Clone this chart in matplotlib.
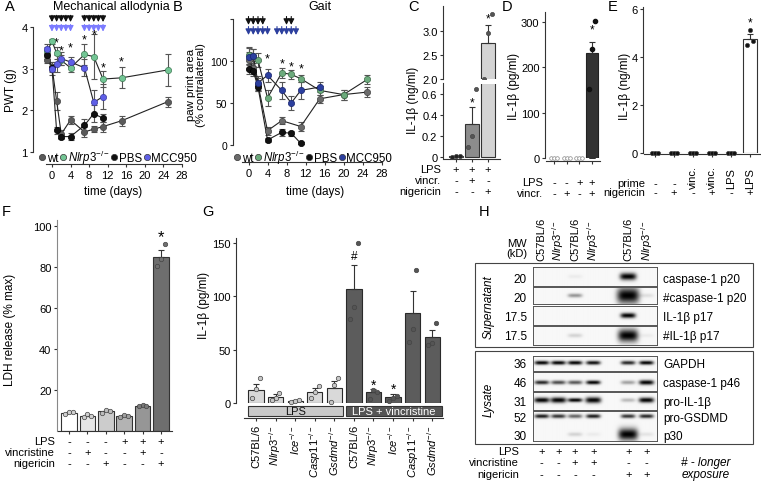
import numpy as np
import matplotlib
matplotlib.use("Agg")
import matplotlib.pyplot as plt
import matplotlib.transforms as mtransforms
from matplotlib.lines import Line2D
from matplotlib.patches import Rectangle

plt.rcParams['font.family'] = ['Liberation Sans', 'DejaVu Sans']
plt.rcParams['mathtext.fontset'] = 'custom'
plt.rcParams['mathtext.rm'] = 'Liberation Sans'
plt.rcParams['mathtext.it'] = 'Liberation Sans:italic'
plt.rcParams['mathtext.bf'] = 'Liberation Sans:bold'
plt.rcParams['axes.linewidth'] = 0.8

NLRP3 = r'$\it{Nlrp3}^{-/-}$'

# ---- A: mechanical allodynia ----
a_days = [-1, 0, 1, 2, 4, 7, 9, 11, 15, 25]
a_days_short = [-1, 0, 1, 2, 4, 7, 9, 11]
a_wt = [3.21, 3.05, 2.23, 1.43, 1.77, 1.48, 1.55, 1.61, 1.75, 2.21]
a_wt_sem = [0.08, 0.1, 0.22, 0.1, 0.1, 0.12, 0.08, 0.12, 0.12, 0.12]
a_nlrp3 = [3.42, 3.66, 3.37, 3.2, 3.02, 3.34, 3.29, 2.75, 2.78, 2.97]
a_nlrp3_sem = [0.1, 0.06, 0.15, 0.12, 0.1, 0.25, 0.55, 0.2, 0.25, 0.38]
a_pbs = [3.32, 3.02, 1.52, 1.37, 1.37, 1.64, 1.92, 1.81]
a_pbs_sem = [0.1, 0.1, 0.08, 0.07, 0.08, 0.15, 0.2, 0.1]
a_mcc = [3.48, 3.0, 3.12, 3.24, 3.16, 3.02, 2.19, 2.33]
a_mcc_sem = [0.1, 0.15, 0.2, 0.15, 0.12, 0.2, 0.3, 0.3]
a_arrows_black = [0, 1, 2, 3, 4, 7, 8, 9, 10, 11]
a_arrows_blue = [0, 1, 2, 3, 4, 7, 8, 9, 10, 11]
a_star_days = [1, 2, 4, 7, 9, 11, 15]
a_star_y = [3.64, 3.44, 3.52, 3.70, 3.81, 3.03, 3.17]

# ---- B: gait ----
b_wt_days = [0, 1, 2, 4, 7, 11, 15, 20, 25]
b_wt = [101, 92, 72, 17, 29, 22, 55, 60, 63]
b_wt_sem = [10, 8, 8, 5, 4, 5, 5, 6, 6]
b_nlrp3_days = [0, 1, 2, 4, 7, 9, 11, 15, 20, 25]
b_nlrp3 = [107, 106, 101, 56, 86, 84, 79, 65, 60, 78]
b_nlrp3_sem = [10, 8, 8, 10, 6, 5, 4, 5, 6, 5]
b_pbs_days = [0, 1, 2, 4, 7, 9, 11]
b_pbs = [90, 88, 69, 6, 15, 14, 2]
b_pbs_sem = [6, 6, 5, 2, 4, 3, 1]
b_mcc_days = [0, 1, 2, 4, 7, 9, 11, 15]
b_mcc = [105, 106, 74, 83, 65, 50, 65, 69]
b_mcc_sem = [10, 8, 8, 8, 10, 8, 10, 6]
b_arrows_black = [0, 1, 2, 3, 8, 9]
b_arrows_blue = [0, 1, 2, 3, 4, 6, 7, 8, 9, 10]
b_star_days = [4, 7, 9, 11]
b_star_y = [103, 97, 93, 91]

# ---- C ----
c_vals = [0.01, 0.31, 2.75]
c_err = [0.004, 0.17, 0.38]
c_pts = [[0.004, 0.01, 0.012], [0.1, 0.2, 0.65], [2.0, 2.95, 3.35]]
c_lps = ['+', '+', '+']
c_vinc = ['-', '+', '-']
c_nig = ['-', '-', '+']

# ---- D ----
d_vals = [0.5, 0.5, 0.5, 232]
d_err = [0, 0, 0, 24]
d_pts = [[0, 0, 0], [0, 0, 0], [0, 0, 0], [152, 240, 302]]
d_lps = ['-', '-', '+', '+']
d_vinc = ['-', '+', '-', '+']

# ---- E ----
e_vals = [0.02, 0.02, 0.02, 0.02, 0.02, 4.75]
e_err = [0, 0, 0, 0, 0, 0.2]
e_pts = [[0, 0, 0], [0, 0, 0], [0, 0, 0], [0, 0, 0], [0, 0, 0], [4.48, 5.12, 4.66]]
e_prime = ['-', '-', 'vinc.', 'vinc.', 'LPS', 'LPS']
e_nig = ['-', '+', '-', '+', '-', '+']

# ---- F ----
f_vals = [9.0, 7.5, 9.6, 7.3, 12.3, 85.0]
f_err = [0.4, 0.4, 0.3, 0.3, 0.2, 3.5]
f_pts = [[8.3, 9.4, 9.5], [7.0, 8.2, 7.4], [9.0, 10.2, 9.9],
         [6.9, 7.6, 7.3], [12.0, 12.6, 12.3], [80.5, 84.0, 91.5]]
f_lps = ['-', '-', '-', '+', '+', '+']
f_vinc = ['-', '+', '-', '-', '+', '-']
f_nig = ['-', '-', '+', '-', '-', '+']

# ---- G ----
g_labels = ['C57BL/6', NLRP3, r'$\it{Ice}^{-/-}$', r'$\it{Casp11}^{-/-}$', r'$\it{Gsdmd}^{-/-}$'] * 2
g_vals = [12, 6, 2, 10, 14, 107, 10, 6, 84, 62]
g_err = [6, 2.5, 0.5, 4, 7, 22, 3, 2, 21, 6]
g_pts = [[5, 13, 23], [3, 5, 9], [1, 2, 3], [5, 10, 16], [1, 17, 23],
         [79, 90, 150], [4, 12, 10], [2, 5, 7], [57, 69, 125], [54, 56, 75]]
g_marks = {5: ('#', 138), 6: ('*', 17), 7: ('*', 13)}

# ---- H: western blot (band darkness per lane; >1 = saturated, larger band) ----
h_lanes = ['C57BL/6', NLRP3, 'C57BL/6', NLRP3, 'C57BL/6', NLRP3]
h_sup_p20 = [0, 0, 0.05, 0, 1.8, 0]
h_sup_p20_long = [0, 0, 0.4, 0, 4.0, 0.1]
h_sup_p17 = [0, 0, 0, 0, 1.3, 0]
h_sup_p17_long = [0, 0, 0.15, 0, 3.2, 0.05]
h_gapdh = [1.0, 1.0, 1.0, 0.95, 0.85, 1.0]
h_p46 = [0.85, 0.7, 0.65, 1.0, 0.35, 1.2]
h_pro_il1b = [1.3, 1.4, 1.0, 1.5, 0.25, 1.3]
h_pro_gsdmd = [0.9, 0.8, 0.6, 0.9, 0.8, 0.85]
h_p30 = [0, 0, 0.15, 0.05, 3.0, 0.08]
h_mw = ['20', '20', '17.5', '17.5', '36', '46', '31', '52', '30']
h_names = ['caspase-1 p20', '#caspase-1 p20', 'IL-1β p17', '#IL-1β p17', 'GAPDH',
           'caspase-1 p46', 'pro-IL-1β', 'pro-GSDMD', 'p30']
h_lps = ['+'] * 6
h_vinc = ['-', '-', '+', '+', '-', '-']
h_nig = ['-', '-', '-', '-', '+', '+']

W, H = 761, 485
TICK = 8
LAB = 8.5
ROW = 8
fig = plt.figure(figsize=(W / 100, H / 100), dpi=100)
fig.patch.set_facecolor('white')


def add_ax(x0, y0, x1, y1):
    return fig.add_axes([x0 / W, 1 - y1 / H, (x1 - x0) / W, (y1 - y0) / H])


def ftext(x, y, s, **kw):
    kw.setdefault('fontsize', LAB)
    return fig.text(x / W, 1 - y / H, s, **kw)


def style(ax, left_off=0, bottom_off=0, tsize=TICK):
    for s in ['top', 'right']:
        ax.spines[s].set_visible(False)
    for s in ['left', 'bottom']:
        ax.spines[s].set_color('#333333')
        ax.spines[s].set_linewidth(0.8)
    ax.spines['left'].set_position(('outward', left_off * 0.72))
    ax.spines['bottom'].set_position(('outward', bottom_off * 0.72))
    ax.tick_params(length=2.5, width=0.8, labelsize=tsize, pad=1.5, color='#333333')
    ax.patch.set_alpha(0)


def rows_text(ax, rows, names, ys, xname, xs=None, size=ROW):
    tr = mtransforms.blended_transform_factory(ax.transData, fig.transFigure)
    for vals, name, y in zip(rows, names, ys):
        ftext(xname, y, name, ha='right', va='center', fontsize=size)
        for i, v in enumerate(vals):
            x = i if xs is None else xs[i]
            if v in ('+', '-'):
                ax.text(x, 1 - y / H, v, transform=tr, ha='center', va='center', fontsize=size)
            else:
                ax.text(x, 1 - (y + 5) / H, v, transform=tr, ha='center', va='bottom',
                        rotation=90, fontsize=size)


def line_series(ax, days, vals, sem, fc, ec='#222222'):
    ax.errorbar(days, vals, yerr=sem, fmt='none', ecolor='#555555', elinewidth=0.8,
                capsize=2, capthick=0.8, zorder=2, clip_on=False)
    ax.plot(days, vals, '-', color='#222222', lw=0.8, zorder=3, clip_on=False)
    ax.plot(days, vals, 'o', ms=4.5, mfc=fc, mec=ec, mew=0.5, zorder=4, clip_on=False)


def arrows(ax, days, y0, y1, color):
    for d in days:
        ax.annotate('', xy=(d, y1), xytext=(d, y0), annotation_clip=False,
                    arrowprops=dict(arrowstyle='-|>,head_width=0.18,head_length=0.35',
                                    lw=0.8, color=color, shrinkA=0, shrinkB=0))


def bars(ax, vals, errs, colors, pts, pt_colors, width, ms=3.2, ec='#333333',
         mfc_open=False, clip=False):
    x = np.arange(len(vals))
    ax.bar(x, vals, width=width, color=colors, edgecolor=ec, linewidth=0.8, zorder=2)
    ax.errorbar(x, vals, yerr=[np.zeros(len(errs)), errs], fmt='none', ecolor='#333333',
                elinewidth=0.8, capsize=2.5, capthick=0.8, zorder=3)
    jit = [-0.25 * width, 0, 0.25 * width]
    for i, p in enumerate(pts):
        ax.plot([i + j for j in jit], p, 'o', ms=ms, mfc='white' if mfc_open else pt_colors[i],
                mec='#444444' if not mfc_open else '#888888', mew=0.5, ls='none', zorder=4,
                clip_on=clip)


# ===================== A =====================
axA = add_ax(45.0, 25.9, 186.6, 153)
axA.set_xlim(-1.5, 29)
axA.set_ylim(1, 4.05)
style(axA, 12, 12)
axA.spines['left'].set_bounds(1, 4)
axA.spines['bottom'].set_bounds(-1.3, 28)
axA.set_yticks([1, 2, 3, 4])
axA.set_xticks(range(0, 29, 4))
line_series(axA, a_days, a_wt, a_wt_sem, '#5a5a5a', '#444444')
line_series(axA, a_days, a_nlrp3, a_nlrp3_sem, '#72c594', '#3f7a55')
line_series(axA, a_days_short, a_pbs, a_pbs_sem, '#111111', '#000000')
line_series(axA, a_days_short, a_mcc, a_mcc_sem, '#5f5fe6', '#3a3aa0')
arrows(axA, a_arrows_black, 4.28, 4.12, '#111111')
arrows(axA, a_arrows_blue, 4.06, 3.89, '#7b7bff')
for d, y in zip(a_star_days, a_star_y):
    axA.text(d, y, '*', ha='center', va='center', fontsize=9)
ftext(111, 7, 'Mechanical allodynia', ha='center', va='center', fontsize=9)
ftext(5, 7, 'A', ha='left', va='center', fontsize=10.5)
ftext(11, 90, 'PWT (g)', rotation=90, ha='center', va='center')
ftext(113, 192, 'time (days)', ha='center', va='center')


def group_legend(xc, cols):
    hs = [Line2D([], [], marker='o', ls='none', ms=4.5, mfc=c, mec='#333333', mew=0.5) for c in cols]
    fig.legend(hs, ['wt', NLRP3, 'PBS', 'MCC950'], loc='center', bbox_to_anchor=(xc / W, 1 - 158 / H),
               ncol=4, frameon=False, fontsize=8.3, handlelength=0.6, handletextpad=0.1,
               columnspacing=0.1, borderpad=0, borderaxespad=0)


group_legend(118, ['#5a5a5a', '#72c594', '#111111', '#5f5fe6'])

# ===================== B =====================
axB = add_ax(243.75, 20, 386.25, 146)
axB.set_xlim(-1, 29)
axB.set_ylim(0, 150)
style(axB, 10.75, 17)
axB.tick_params(axis='y', labelsize=7.5)
axB.spines['left'].set_bounds(0, 150)
axB.spines['bottom'].set_bounds(-1.3, 28)
axB.set_yticks([0, 50, 100, 150])
axB.set_yticklabels(['0', '50', '100', ''])
axB.set_xticks(range(0, 29, 4))
line_series(axB, b_wt_days, b_wt, b_wt_sem, '#6b6b6b', '#444444')
line_series(axB, b_nlrp3_days, b_nlrp3, b_nlrp3_sem, '#6caa7c', '#3d6b48')
line_series(axB, b_pbs_days, b_pbs, b_pbs_sem, '#111111', '#000000')
line_series(axB, b_mcc_days, b_mcc, b_mcc_sem, '#2c3f9e', '#1a2670')
arrows(axB, b_arrows_black, 153, 143, '#111111')
arrows(axB, b_arrows_blue, 141, 131, '#2c3f9e')
for d, y in zip(b_star_days, b_star_y):
    axB.text(d, y, '*', ha='center', va='center', fontsize=9)
ftext(320, 7, 'Gait', ha='center', va='center', fontsize=9)
ftext(173, 7, 'B', ha='left', va='center', fontsize=10.5)
ftext(196, 85, 'paw print area\n(% contralateral)', rotation=90, ha='center', va='center',
      linespacing=1.0, fontsize=8.2)
ftext(315, 192, 'time (days)', ha='center', va='center')
group_legend(313, ['#6b6b6b', '#6caa7c', '#111111', '#2c3f9e'])

# ===================== C (broken axis) =====================
c_colors = ['#333333', '#8c8c8c', '#d4d4d4']
axCt = add_ax(446.4, 7, 497.6, 80)
axCb = add_ax(446.4, 84.5, 497.6, 160)
for ax in (axCt, axCb):
    ax.set_xlim(-0.6, 2.6)
    style(ax, 3.4, 0)
    bars(ax, c_vals, c_err, c_colors, c_pts, ['#222222', '#555555', '#555555'], 0.9, ms=3, clip=True)
axCt.set_ylim(2.0, 3.52)
axCt.spines['bottom'].set_visible(False)
axCt.set_xticks([])
axCt.set_yticks([2.0, 2.5, 3.0])
axCt.set_yticklabels(['2.0', '2.5', '3.0'])
axCt.text(2, 3.26, '*', ha='center', va='center', fontsize=8.5)
axCb.set_ylim(-0.019, 0.7)
axCb.set_yticks([0, 0.2, 0.4, 0.6])
axCb.set_yticklabels(['0', '0.2', '0.4', '0.6'])
axCb.set_xticks([0, 1, 2])
axCb.set_xticklabels([])
axCb.spines['bottom'].set_bounds(-0.75, 2.75)
axCb.text(1, 0.52, '*', ha='center', va='center', fontsize=8.5)
rows_text(axCb, [c_lps, c_vinc, c_nig], ['LPS', 'vincr.', 'nigericin'], [170, 181, 192], 441)
ftext(414, 7, 'C', ha='center', va='center', fontsize=10.5)
ftext(413, 100, 'IL-1β (ng/ml)', rotation=90, ha='center', va='center')

# ===================== D =====================
axD = add_ax(546.4, 13, 599.6, 159)
axD.set_xlim(-0.6, 3.6)
axD.set_ylim(0, 322)
style(axD, 1.4, 3)
axD.set_yticks([0, 100, 200, 300])
axD.set_xticks([0, 1, 2, 3])
axD.set_xticklabels([])
bars(axD, d_vals[:3] + [0], d_err[:3] + [0], ['#dddddd'] * 4, d_pts[:3] + [[np.nan] * 3],
     ['white'] * 4, 0.9, ms=2.6, ec='#999999', mfc_open=True)
axD.bar([3], d_vals[3:], width=0.9, color='#333333', edgecolor='#222222', lw=0.8, zorder=2)
axD.errorbar([3], d_vals[3:], yerr=[[0], d_err[3:]], fmt='none', ecolor='#333333', elinewidth=0.8,
             capsize=2.5, capthick=0.8, zorder=3)
axD.plot([3 - 0.2, 3, 3 + 0.2], d_pts[3], 'o', ms=3, color='#111111', ls='none', zorder=4, clip_on=False)
axD.text(3, 283, '*', ha='center', va='center', fontsize=8.5)
rows_text(axD, [d_lps, d_vinc], ['LPS', 'vincr.'], [183, 194], 543)
ftext(507, 7, 'D', ha='center', va='center', fontsize=10.5)
ftext(514, 86, 'IL-1β (pg/ml)', rotation=90, ha='center', va='center')

# ===================== E =====================
axE = add_ax(643.6, 7.6, 760.5, 154)
axE.set_xlim(-0.6, 5.55)
axE.set_ylim(0, 6.1)
style(axE, 0.6, 1)
axE.set_yticks([0, 2, 4, 6])
axE.set_xticks(range(6))
axE.set_xticklabels([])
bars(axE, e_vals, e_err, ['white'] * 6, e_pts, ['#111111'] * 6, 0.7, ms=3, ec='#333333')
axE.text(5, 5.42, '*', ha='center', va='center', fontsize=8.5)
rows_text(axE, [e_prime, e_nig], ['prime', 'nigericin'], [184, 193], 645)
ftext(613, 7, 'E', ha='center', va='center', fontsize=10.5)
ftext(625, 86, 'IL-1β (ng/ml)', rotation=90, ha='center', va='center')

# ===================== F =====================
axF = add_ax(58, 221, 172, 432)
axF.set_xlim(-0.6, 5.6)
axF.set_ylim(0, 103)
style(axF, 1, 0)
axF.spines['left'].set_color('#888888')
axF.set_yticks([20, 40, 60, 80, 100])
axF.set_xticks(range(6))
axF.set_xticklabels([])
f_colors = ['#ffffff', '#e6e6e6', '#cccccc', '#b3b3b3', '#969696', '#6e6e6e']
f_ptc = ['#cfcfcf', '#cfcfcf', '#bdbdbd', '#a0a0a0', '#7a7a7a', '#707070']
bars(axF, f_vals, f_err, f_colors, f_pts, f_ptc, 0.85, ms=3.2)
axF.text(5, 95, '*', ha='center', va='center', fontsize=12)
rows_text(axF, [f_lps, f_vinc, f_nig], ['LPS', 'vincristine', 'nigericin'], [442, 453, 464], 55)
ftext(6, 212, 'F', ha='center', va='center', fontsize=10.5)
ftext(10, 330, 'LDH release (% max)', rotation=90, ha='center', va='center')

# ===================== G =====================
axG = add_ax(242.3, 238.7, 443, 404)
axG.set_xlim(-0.7, 9.55)
axG.set_ylim(0, 155)
style(axG, 6.3, 15)
axG.spines['left'].set_bounds(0, 155)
axG.spines['bottom'].set_bounds(-0.6, 9.55)
axG.set_yticks([0, 50, 100, 150])
axG.set_xticks(range(10))
axG.set_xticklabels(g_labels, rotation=90, fontsize=8, va='top', ha='center')
axG.tick_params(axis='x', pad=2)
g_colors = ['#d9d9d9'] * 5 + ['#5c5c5c'] * 5
g_ptc = ['#c8c8c8'] * 5 + ['#555555'] * 5
bars(axG, g_vals, g_err, g_colors, g_pts, g_ptc, 0.78, ms=3.2, ec='#2a2a2a')
for i, (m, y) in g_marks.items():
    axG.text(i, y, m, ha='center', va='center', fontsize=10 if m == '*' else 8.5)
trG = mtransforms.blended_transform_factory(axG.transData, fig.transFigure)
for (xa, xb), lab, fc, tc in [((-0.42, 4.45), 'LPS', '#c9c9c9', '#111111'),
                               ((4.6, 9.5), 'LPS + vincristine', '#555555', 'white')]:
    axG.add_patch(Rectangle((xa, 1 - 417 / H), xb - xa, 10 / H, transform=trG, fc=fc,
                            ec='#333333', lw=0.8, clip_on=False))
    axG.text((xa + xb) / 2, 1 - 412 / H, lab, transform=trG, ha='center', va='center',
             fontsize=8, color=tc)
ftext(208, 212, 'G', ha='center', va='center', fontsize=10.5)
ftext(204, 305, 'IL-1β (pg/ml)', rotation=90, ha='center', va='center')

# ===================== H (blot) =====================
lane_x = [0, 0.97, 1.94, 3.0, 5.03, 6.1]
strips = [(268, 287), (288, 305), (307, 326), (327, 346), (357, 372), (373, 392), (393, 411), (412, 442)]
strip_bands = [[(h_sup_p20, 0.5)], [(h_sup_p20_long, 0.5)], [(h_sup_p17, 0.5)],
               [(h_sup_p17_long, 0.5)], [(h_gapdh, 0.55)], [(h_p46, 0.45)],
               [(h_pro_il1b, 0.55)], [(h_pro_gsdmd, 0.83), (h_p30, 0.22)]]
strip_axes = []
for (y0, y1), bands in zip(strips, strip_bands):
    ax = add_ax(533, y0, 657, y1)
    hpx = y1 - y0
    xs = np.linspace(-0.5, 6.7, 260)
    ys = np.linspace(0, 1, 4 * hpx)
    X, Y = np.meshgrid(xs, ys)
    dark = np.zeros_like(X)
    for vals, yc in bands:
        for lx, v in zip(lane_x, vals):
            if v <= 0:
                continue
            size = max(1.0, v)
            wx = 0.42 * (1 + 0.18 * (size - 1))
            hy = 2.0 * size / hpx
            dark += min(1.0, v) * np.exp(-((X - lx) / wx) ** 4 - ((Y - yc) / hy) ** 2)
    img = 0.97 - 0.97 * np.clip(dark, 0, 1)
    ax.imshow(img, cmap='gray', vmin=0, vmax=1, extent=(-0.5, 6.7, 0, 1), origin='lower',
              aspect='auto', interpolation='bilinear')
    ax.set_xticks([])
    ax.set_yticks([])
    for s in ax.spines.values():
        s.set_color('#555555')
        s.set_linewidth(0.7)
    strip_axes.append(ax)

for (bx0, by0, bx1, by1) in [(475, 264, 753, 348), (475, 352, 753, 445)]:
    fig.add_artist(Rectangle((bx0 / W, 1 - by1 / H), (bx1 - bx0) / W, (by1 - by0) / H,
                             transform=fig.transFigure, fill=False, ec='#444444', lw=0.8))

label_y = [280, 299, 318, 337, 365, 384, 403, 419, 437]
for y, mw, name in zip(label_y, h_mw, h_names):
    ftext(527, y, mw, ha='right', va='center')
    ftext(663, y, name, ha='left', va='center')
ftext(489, 307, 'Supernatant', rotation=90, ha='center', va='center', style='italic')
ftext(489, 400, 'Lysate', rotation=90, ha='center', va='center', style='italic')

axH0 = strip_axes[0]
trH = mtransforms.blended_transform_factory(axH0.transData, fig.transFigure)
for lx, lab in zip(lane_x, h_lanes):
    axH0.text(lx, 1 - 261 / H, lab, transform=trH, rotation=90, ha='center', va='bottom', fontsize=ROW)
ftext(517, 249, 'MW\n(kD)', ha='center', va='center', fontsize=ROW, linespacing=1.0)
rows_text(axH0, [h_lps, h_vinc, h_nig], ['LPS', 'vincristine', 'nigericin'], [452, 463, 475], 519, xs=lane_x)
ftext(706, 463, '# - longer', ha='center', va='center', style='italic')
ftext(706, 475, 'exposure', ha='center', va='center', style='italic')
ftext(484, 212, 'H', ha='center', va='center', fontsize=10.5)

fig.savefig('out.png', dpi=100, facecolor='white')
